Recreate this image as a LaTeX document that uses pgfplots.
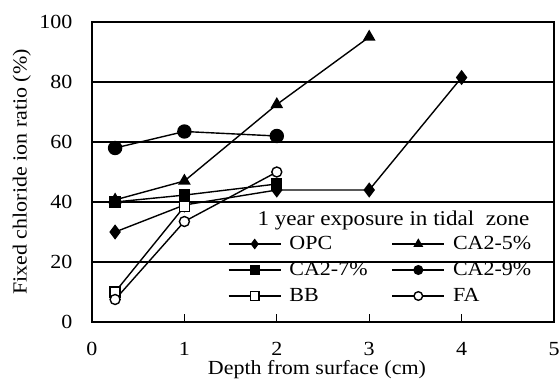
\documentclass[border=0pt]{standalone}
\usepackage{pgfplots}
\pgfplotsset{compat=1.18}
\usepackage{fontspec}
\setmainfont{Liberation Serif}[FakeStretch=1.1]

\begin{document}
\begin{tikzpicture}
\begin{axis}[
  at={(0pt,0pt)}, anchor=south west,
  scale only axis, width=462pt, height=300pt,
  xmin=0, xmax=5, ymin=0, ymax=100,
  xtick={0,1,2,3,4,5}, ytick={0,20,40,60,80,100},
  xtick pos=left, tick align=inside, major tick length=8pt,
  ytick style={draw=none},
  xtick style={black, line width=1.3pt},
  ymajorgrids, grid style={black, line width=1.3pt},
  axis line style={black, line width=1.7pt},
  /pgf/number format/assume math mode=true,
  tick label style={font=\fontsize{20}{24}\selectfont},
  xticklabel style={anchor=base, yshift=-33pt},
  yticklabel style={anchor=east, xshift=-16pt},
  xlabel={Depth from surface (cm)},
  ylabel={Fixed chloride ion ratio (\%)},
  label style={font=\fontsize{20}{24}\selectfont},
  xlabel style={at={(axis description cs:0.487,-0.16)}, anchor=center},
  ylabel style={at={(axis description cs:-0.152,0.5)}, anchor=center},
  legend columns=2,
  legend cell align=left,
  legend image code/.code={\draw[#1,mark=none] (0pt,0pt) -- (52pt,0pt); \draw[#1,mark size=4.3pt] plot coordinates {(26pt,0pt)};},
  legend style={at={(axis cs:1.472,29.0)}, anchor=north west, draw=none, fill=none,
    inner sep=0pt, outer sep=0pt, row sep=8pt,
    nodes={inner sep=0pt, font=\fontsize{20}{24}\selectfont, text height=14pt, text depth=4pt},
    /tikz/every odd column/.append style={column sep=8pt},
    /tikz/every even column/.append style={column sep=24pt}},
  every axis plot/.append style={black, line width=1.4pt},
]
\addplot[mark=diamond*, mark size=6.5pt] coordinates {(0.25,30) (1,39) (2,44) (3,44) (4,81.5)};
\addlegendentry{OPC}
\addplot[mark=triangle*, mark size=6pt] coordinates {(0.25,40.7) (1,47) (2,72.5) (3,95)};
\addlegendentry{CA2-5\%}
\addplot[mark=square*, mark size=5pt] coordinates {(0.25,40) (1,42.3) (2,46)};
\addlegendentry{CA2-7\%}
\addplot[mark=*, mark size=6.5pt] coordinates {(0.25,58) (1,63.5) (2,62)};
\addlegendentry{CA2-9\%}
\addplot[mark=square*, mark options={fill=white}, mark size=5pt] coordinates {(0.25,10) (1,38.5)};
\addlegendentry{BB}
\addplot[mark=*, mark options={fill=white}, mark size=5pt] coordinates {(0.25,7.5) (1,33.5) (2,50)};
\addlegendentry{FA}
\node[font=\fontsize{21}{24}\selectfont, anchor=base] at (axis cs:3.263,32.3) {1 year exposure in tidal\ \ zone};
\end{axis}
\pgfresetboundingbox
\useasboundingbox (-92pt,-61pt) rectangle (468pt,322pt);
\end{tikzpicture}
\end{document}
